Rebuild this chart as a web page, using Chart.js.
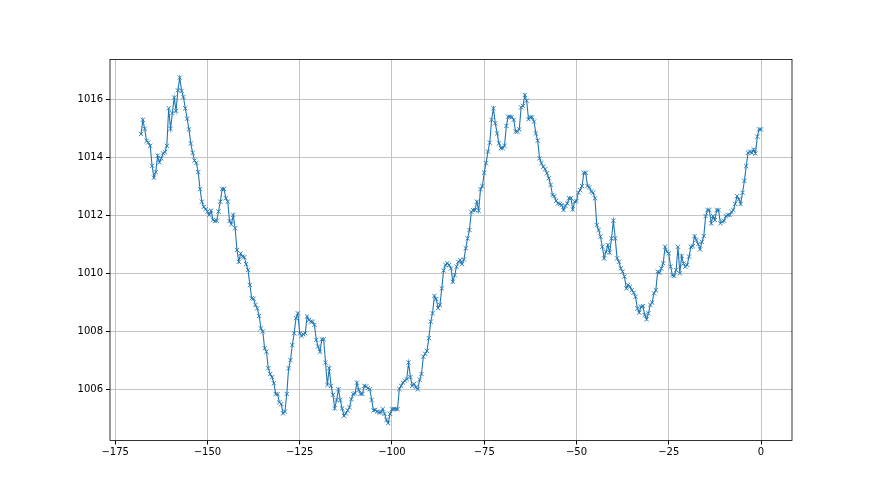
<!DOCTYPE html>
<html>
<head>
<meta charset="utf-8">
<script src="https://cdn.jsdelivr.net/npm/chart.js@4"></script>
<style>
  html, body { margin: 0; padding: 0; background: #fff; }
  #wrap { width: 880px; height: 495px; }
</style>
</head>
<body>
<div id="wrap"><canvas id="chart" width="880" height="495"></canvas></div>
<script>
// Pressure readings (hPa), one every half hour, oldest first
const pressure1 = [1014.82, 1015.31, 1015.0, 1014.58, 1014.53, 1014.41, 1013.72, 1013.31, 1013.5, 1014.07,
    1013.84, 1013.98, 1014.15, 1014.19, 1014.41, 1015.71, 1015.0, 1015.54, 1016.08, 1015.62,
    1016.33, 1016.77, 1016.31, 1016.1, 1015.71, 1015.35, 1014.98, 1014.49, 1014.17, 1013.9,
    1013.82, 1013.5, 1012.91, 1012.48, 1012.3, 1012.22, 1012.14, 1012.02, 1012.17, 1011.85,
    1011.81, 1011.82, 1012.14, 1012.48, 1012.92, 1012.92, 1012.6, 1012.48, 1011.81, 1011.7,
    1012.02, 1011.56, 1010.81, 1010.4, 1010.69, 1010.58];
const pressure2 = [1010.56, 1010.32, 1010.12, 1009.6, 1009.14, 1009.12, 1008.91, 1008.79, 1008.53, 1008.1,
    1007.99, 1007.41, 1007.29, 1006.72, 1006.52, 1006.41, 1006.2, 1005.83, 1005.82, 1005.54,
    1005.48, 1005.16, 1005.22, 1005.83, 1006.72, 1007.0, 1007.52, 1007.93, 1008.45, 1008.62,
    1007.93, 1007.84, 1007.89, 1007.93, 1008.51, 1008.39, 1008.33, 1008.33, 1008.22, 1007.7,
    1007.47, 1007.29, 1007.72, 1007.72, 1006.91, 1006.14, 1006.72, 1006.11, 1005.8, 1005.33,
    1005.62, 1005.99, 1005.62, 1005.33];
const pressure3 = [1005.07, 1005.16, 1005.26, 1005.37, 1005.65, 1005.83, 1005.85, 1006.22, 1005.97, 1005.83,
    1005.83, 1006.11, 1006.09, 1006.03, 1005.99, 1005.62, 1005.26, 1005.28, 1005.22, 1005.19,
    1005.19, 1005.31, 1005.14, 1004.93, 1004.82, 1005.14, 1005.3, 1005.31, 1005.31, 1005.3,
    1006.0, 1006.11, 1006.22, 1006.29, 1006.34, 1006.92, 1006.41, 1006.11, 1006.18, 1006.06,
    1005.99, 1006.32, 1006.52, 1007.12, 1007.22, 1007.32, 1007.76, 1008.33, 1008.62, 1009.22,
    1009.11, 1008.8, 1008.91, 1009.48, 1010.1];
const pressure4 = [1010.29, 1010.35, 1010.29, 1010.17, 1009.71, 1009.94, 1010.23, 1010.4, 1010.46, 1010.32,
    1010.48, 1010.87, 1011.21, 1011.5, 1012.13, 1012.19, 1012.19, 1012.48, 1012.17, 1012.91,
    1013.02, 1013.48, 1013.81, 1014.21, 1014.52, 1015.31, 1015.71, 1015.19, 1014.84, 1014.5,
    1014.33, 1014.33, 1014.41, 1015.1, 1015.42, 1015.42, 1015.4, 1015.31, 1014.9, 1014.9,
    1014.98, 1015.74, 1015.79, 1016.17, 1015.97, 1015.33, 1015.4, 1015.4, 1015.25, 1014.84,
    1014.59, 1013.98, 1013.81, 1013.69, 1013.6, 1013.46, 1013.29, 1013.06, 1012.71, 1012.67,
    1012.51, 1012.42];
const pressure5 = [1012.4, 1012.36, 1012.19, 1012.33, 1012.42, 1012.6, 1012.6, 1012.21, 1012.48, 1012.5,
    1012.79, 1012.88, 1013.02, 1013.48, 1013.48, 1013.02, 1012.98, 1012.83, 1012.79, 1012.6,
    1011.67, 1011.5, 1011.27, 1010.92, 1010.52, 1010.75, 1010.98, 1010.72, 1011.21, 1011.82,
    1011.21, 1010.52, 1010.4, 1010.17, 1010.06, 1009.89, 1009.48, 1009.6, 1009.54, 1009.42,
    1009.33, 1009.19, 1008.79, 1008.64, 1008.85, 1008.87, 1008.56, 1008.41, 1008.62, 1008.91,
    1008.99, 1009.31, 1009.42, 1010.06, 1010.02, 1010.17, 1010.35];
const pressure6 = [1010.92, 1010.75, 1010.69, 1010.23, 1009.94, 1009.91, 1010.11, 1010.92, 1010.0, 1010.6,
    1010.34, 1010.23, 1010.29, 1010.58, 1010.92, 1010.94, 1011.29, 1011.15, 1011.01, 1010.83,
    1011.09, 1011.29, 1011.98, 1012.19, 1012.19, 1011.73, 1011.98, 1011.84, 1012.19, 1012.19,
    1011.73, 1011.79, 1011.82, 1011.98, 1012.02, 1012.02, 1012.13, 1012.19, 1012.4, 1012.67,
    1012.56, 1012.4, 1012.79, 1013.2, 1013.71, 1014.17, 1014.21, 1014.17, 1014.29, 1014.15,
    1014.73, 1014.98, 1014.98];

// Time axis: hours before now, first reading 168 h ago
const firstHour = -168;
const stepHours = 0.5;

const xTicks = [-175, -150, -125, -100, -75, -50, -25, 0];
const yTicks = [1006, 1008, 1010, 1012, 1014, 1016];

const pressure = [].concat(pressure1, pressure2, pressure3, pressure4, pressure5, pressure6);
const points = pressure.map((p, i) => ({ x: firstHour + i * stepHours, y: p }));

// Full box around the plot, like matplotlib spines
const frame = {
    id: 'frame',
    afterDatasetsDraw(chart) {
        const a = chart.chartArea;
        const ctx = chart.ctx;
        ctx.save();
        ctx.strokeStyle = '#000';
        ctx.lineWidth = 0.8;
        ctx.strokeRect(a.left, a.top, a.right - a.left, a.bottom - a.top);
        ctx.restore();
    }
};

const minus = v => String(v).replace('-', '\u2212');

new Chart(document.getElementById('chart'), {
    type: 'line',
    data: {
        datasets: [{
            data: points,
            borderColor: '#1f77b4',
            borderWidth: 1.1,
            pointStyle: 'crossRot',
            pointRadius: 3,
            pointBorderWidth: 0.9,
            pointBorderColor: '#1f77b4',
            pointBackgroundColor: '#1f77b4',
            tension: 0,
            fill: false
        }]
    },
    options: {
        responsive: false,
        devicePixelRatio: 1,
        animation: false,
        layout: { padding: { left: 0, top: 59.4, right: 88, bottom: 0 } },
        plugins: { legend: { display: false }, tooltip: { enabled: false } },
        scales: {
            x: {
                type: 'linear',
                min: -176.4,
                max: 8.4,
                afterBuildTicks: s => { s.ticks = xTicks.map(v => ({ value: v })); },
                afterFit: s => { s.height = 54.5; },
                border: { display: false },
                grid: { color: '#c4c4c4', lineWidth: 1, tickColor: '#000', tickLength: 4, drawTicks: true },
                ticks: {
                    color: '#000',
                    font: { family: 'DejaVu Sans', size: 10 },
                    padding: 2,
                    maxRotation: 0,
                    callback: v => minus(v)
                }
            },
            y: {
                type: 'linear',
                min: 1004.22,
                max: 1017.40,
                afterBuildTicks: s => { s.ticks = yTicks.map(v => ({ value: v })); },
                afterFit: s => { s.width = 110; },
                border: { display: false },
                grid: { color: '#c4c4c4', lineWidth: 1, tickColor: '#000', tickLength: 4, drawTicks: true },
                ticks: {
                    color: '#000',
                    font: { family: 'DejaVu Sans', size: 10 },
                    padding: 3,
                    callback: v => String(v)
                }
            }
        }
    },
    plugins: [frame]
});
</script>
</body>
</html>
